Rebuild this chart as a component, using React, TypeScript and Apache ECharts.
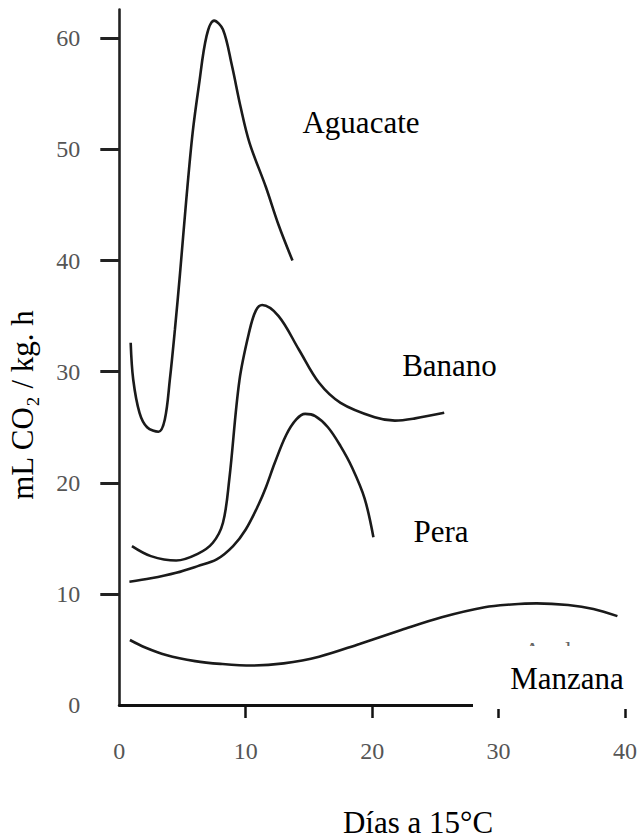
import React, { useEffect, useRef } from "react";
import * as echarts from "echarts";

// Days at 15 °C vs respiration (mL CO2 / kg·h)
const aguacate: number[][] = [
  [0.9, 32.6], [1.1, 29.3], [1.6, 26.3], [2.2, 25.0], [3.1, 24.6], [3.6, 25.7],
  [4.0, 29.3], [4.4, 33.8], [4.8, 38.8], [5.3, 45.5], [5.8, 51.5], [6.3, 55.8],
  [6.9, 60.2], [7.5, 61.6], [8.2, 60.8], [8.9, 57.6], [9.6, 53.8], [10.3, 50.6],
  [11.6, 46.6], [12.6, 43.2], [13.7, 40.0],
];
const banano: number[][] = [
  [1.0, 14.3], [2.5, 13.4], [4.5, 13.0], [6.2, 13.6], [7.4, 14.6], [8.2, 16.4],
  [8.7, 20.3], [9.5, 29.2], [10.3, 33.7], [10.8, 35.5], [11.3, 36.0], [12.6, 35.0],
  [14.2, 32.0], [15.8, 29.0], [17.5, 27.2], [20.2, 25.9], [21.8, 25.6], [23.4, 25.8],
  [25.7, 26.3],
];
const pera: number[][] = [
  [0.8, 11.1], [2.5, 11.4], [4.5, 11.9], [6.2, 12.5], [7.7, 13.1], [9.0, 14.3],
  [10.0, 15.8], [11.0, 18.0], [11.6, 19.6], [12.3, 21.8], [13.2, 24.3], [14.0, 25.7],
  [14.7, 26.2], [15.5, 26.0], [16.5, 25.0], [17.5, 23.3], [18.4, 21.4], [19.4, 18.6],
  [20.1, 15.1],
];
const manzana: number[][] = [
  [0.84, 5.85], [2.0, 5.2], [3.7, 4.5], [6.0, 3.95], [8.0, 3.7], [10.5, 3.55],
  [13.0, 3.75], [15.8, 4.35], [19.0, 5.5], [22.3, 6.75], [25.5, 7.9], [28.9, 8.8],
  [31.0, 9.05], [33.0, 9.15], [35.5, 9.0], [37.5, 8.65], [39.4, 8.0],
];
const yTicks = [10, 20, 30, 40, 50, 60];
const yLabels = [0, 10, 20, 30, 40, 50, 60];
const xTicks = [10, 20, 30, 40];
const xLabels = [0, 10, 20, 30, 40];

const SERIF = '"Liberation Serif", "Times New Roman", serif';

export default function App() {
  const ref = useRef<HTMLDivElement>(null);
  useEffect(() => {
    if (!ref.current) return;
    const chart = echarts.init(ref.current, undefined, { renderer: "svg" });
    const lineStyle = { color: "#1a1a1a", width: 2.6 };
    const mk = (name: string, data: number[][]) => ({
      name,
      type: "line",
      data,
      smooth: 0.35,
      showSymbol: false,
      symbol: "none",
      lineStyle,
      z: 3,
    });
    const txt = (text: string, x: number, y: number, extra: any = {}) => ({
      type: "text",
      x,
      y,
      z: 110,
      ...extra,
      style: {
        text,
        fill: "#000",
        font: `31px ${SERIF}`,
        textAlign: "center",
        textVerticalAlign: "middle",
        align: "center",
        verticalAlign: "middle",
        ...(extra.style || {}),
      },
    });
    chart.setOption({
      animation: false,
      backgroundColor: "#fff",
      grid: { left: 119.3, right: 12, top: 9.5, bottom: 133 },
      xAxis: {
        type: "value",
        min: 0,
        max: 40,
        interval: 10,
        splitLine: { show: false },
        axisLine: { show: true, lineStyle: { color: "#111", width: 3 } },
        axisTick: { show: true, length: 13, lineStyle: { color: "#111", width: 2.5 }, customValues: xTicks },
        axisLabel: { color: "#555", fontSize: 24, fontFamily: SERIF, margin: 34, customValues: xLabels },
      },
      yAxis: {
        type: "value",
        min: 0,
        max: 62.6,
        interval: 10,
        splitLine: { show: false },
        axisLine: { show: true, lineStyle: { color: "#222", width: 2.6 } },
        axisTick: { show: true, length: 19, lineStyle: { color: "#222", width: 3 }, customValues: yTicks },
        axisLabel: { color: "#555", fontSize: 24, fontFamily: SERIF, margin: 39, padding: [10, 0, 0, 0], customValues: yLabels },
      },
      series: [
        mk("Aguacate", aguacate),
        mk("Banano", banano),
        mk("Pera", pera),
        mk("Manzana", manzana),
      ],
      graphic: [
        txt("Apple", 553, 650, { z: 100, style: { fill: "#666", font: `24px ${SERIF}`, lineHeight: 18 } }),
        { type: "rect", z: 105, shape: { x: 473, y: 646, width: 167, height: 63 }, style: { fill: "#fff" } },
        txt("Aguacate", 361, 122),
        txt("Banano", 449.5, 365),
        txt("Pera", 441, 531.7),
        txt("Manzana", 567, 678, { style: { lineHeight: 24 } }),
        txt("Días a 15°C", 418, 822),
        txt("mL CO₂ / kg. h", 22, 405, { rotation: Math.PI / 2 }),
      ],
    });
    return () => chart.dispose();
  }, []);
  return (
    <div
      ref={ref}
      style={{ position: "fixed", left: 0, top: 0, width: 640, height: 838, background: "#fff" }}
    />
  );
}
